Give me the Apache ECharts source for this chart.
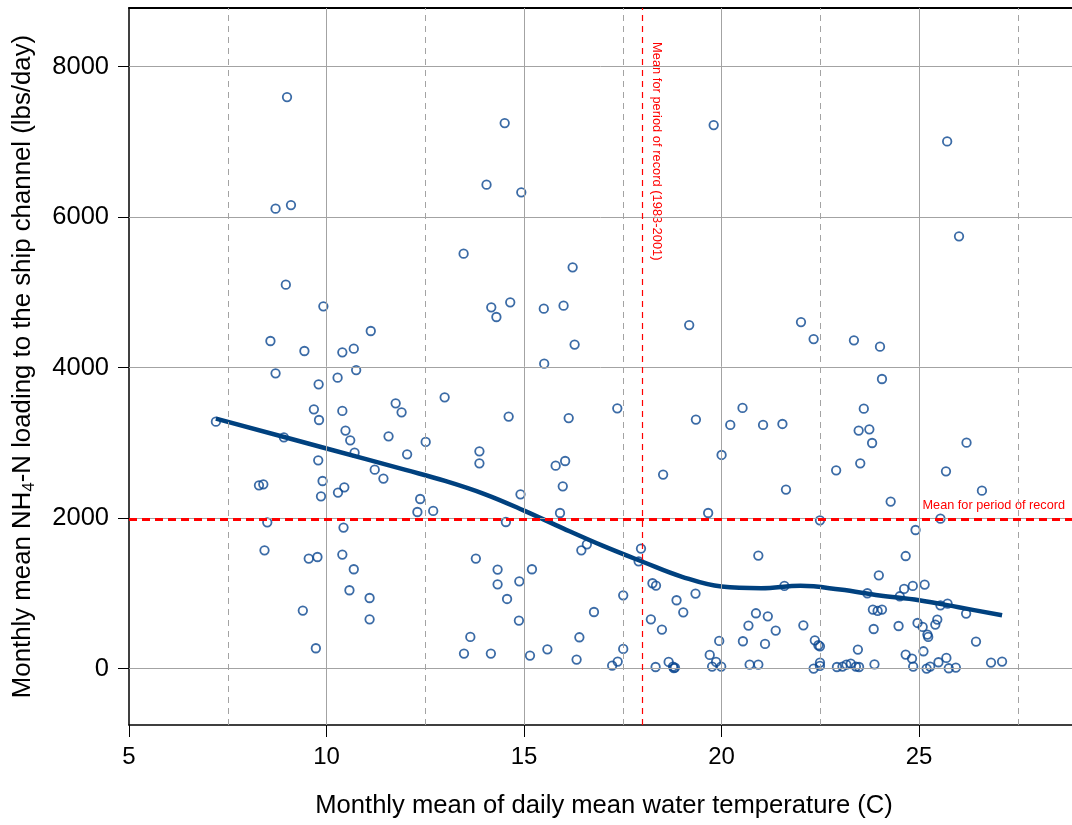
<!DOCTYPE html>
<html>
<head>
<meta charset="utf-8">
<script src="https://cdn.jsdelivr.net/npm/echarts@6/dist/echarts.min.js"></script>
<style>
  html, body { margin: 0; padding: 0; background: #ffffff; }
  #chart { width: 1072px; height: 825px; }
</style>
</head>
<body>
<div id="chart"></div>
<script>
// Monthly mean water temperature (C) for each month of record
const temperature = [
  9.00, 8.71, 9.10, 8.97, 9.92, 8.58, 9.44, 10.40, 10.69, 11.12,
  8.71, 10.75, 9.80, 10.28, 12.99, 11.75, 11.90, 9.68, 10.40, 9.81,
  7.20, 10.48, 10.60, 11.57, 12.51, 8.92, 10.71, 12.04, 9.79, 11.22,
  11.44, 8.29, 8.40, 9.90, 10.45, 10.29, 9.86, 12.37, 12.30, 12.70,
  8.50, 10.43, 8.43, 9.55, 9.77, 10.40, 10.69, 10.58, 11.09, 11.09,
  9.40, 9.73,
  14.51, 19.80, 14.05, 14.93, 13.47, 16.23, 14.17, 14.30, 14.65, 15.50,
  16.00, 19.18, 16.28,
  15.51, 14.61, 16.13, 17.36, 19.35, 20.53, 20.22, 20.00, 13.87, 13.87,
  15.80, 16.04, 15.98, 18.52, 14.91, 15.91, 19.66, 14.54, 17.96, 16.45,
  16.59, 17.90, 20.93, 13.78, 14.33, 15.20, 14.33, 14.88, 14.57, 14.87,
  18.25, 18.34, 19.34, 18.86, 19.03, 17.51, 16.77, 18.21, 18.49, 20.87,
  20.68, 19.94, 20.54, 13.64, 13.48, 14.16, 15.15, 15.59, 16.40, 16.33,
  17.51, 17.37, 17.23, 18.33, 18.66, 18.77, 18.82, 18.79, 19.70, 19.76,
  19.86, 19.99, 20.71, 20.93,
  25.71, 26.01, 22.01, 22.33, 23.35, 24.01,
  24.06, 21.05, 21.54, 23.60, 23.47, 23.74, 23.81, 23.51, 22.90, 26.20,
  25.68, 26.59, 21.63, 24.28, 22.49, 25.54, 24.91, 24.66, 23.98, 21.59,
  23.69, 24.62, 24.84, 25.14, 24.51, 25.54, 25.72, 26.19, 21.17, 23.83,
  23.95, 24.06, 21.37, 22.07, 24.48, 23.85, 24.96, 25.09, 25.21, 25.23,
  25.41, 25.46, 26.44, 21.10, 22.36, 22.45, 22.49, 23.45, 24.66, 24.82,
  25.11, 25.49, 25.69, 26.82, 27.10, 22.33, 22.49, 22.49, 22.92, 23.06,
  23.16, 23.27, 23.40, 23.48, 23.87, 24.85, 25.19, 25.28, 25.75, 25.93
];

// Monthly mean NH4-N loading (lbs/day), same order as temperature
const loading = [
  7596, 6113, 6161, 5103, 4815, 4354, 4221, 4203, 4252, 4487,
  3924, 3968, 3778, 3867, 3605, 3526, 3406, 3446, 3424, 3304,
  3282, 3163, 3034, 3087, 3012, 3074, 2870, 2848, 2768, 2644,
  2525, 2436, 2449, 2493, 2409, 2339, 2290, 2254, 2081, 2095,
  1944, 1874, 1572, 1462, 1483, 1515, 1320, 1041, 938, 655,
  771, 270,
  7251, 7224, 6432, 6330, 5515, 5333, 4801, 4673, 4868, 4784,
  4824, 4566, 4306,
  4053, 3349, 3330, 3459, 3309, 3464, 3238, 2839, 2888, 2728,
  2697, 2759, 2423, 2578, 2316, 2068, 2068, 1948, 1595, 1572,
  1652, 1426, 1502, 1462, 1316, 1320, 1120, 1160, 925, 638,
  1134, 1103, 997, 908, 748, 974, 752, 655, 518, 735,
  571, 367, 363, 420, 199, 199, 173, 256, 416, 120,
  261, 93, 40, 21, 88, 27, 13, 5, 181, 27,
  88, 27, 53, 53,
  7007, 5745, 4606, 4380, 4363, 4279,
  3849, 3238, 3251, 3455, 3163, 3180, 2998, 2728, 2635, 3003,
  2622, 2365, 2379, 2219, 1971, 1993, 1842, 1496, 1240, 1098,
  1001, 1058, 1098, 1116, 961, 841, 864, 731, 695, 784,
  766, 784, 505, 575, 566, 526, 606, 553, 452, 420,
  585, 651, 359, 327, 376, 310, 296, 252, 186, 133,
  230, 84, 141, 80, 93, 0, 80, 35, 21, 27,
  53, 66, 27, 21, 57, 27, 0, 27, 4, 13
];

// Smoothed (LOWESS) relation of loading to temperature
const trendTemp = [7.2, 10, 12, 13, 14, 15, 16, 17, 18, 19, 20, 21, 22, 23, 24, 25, 26, 27.1];
const trendLoad = [3322, 2925, 2640, 2495, 2320, 2100, 1860, 1630, 1420, 1220, 1090, 1068, 1100, 1050, 972, 908, 815, 708];

// Axis ticks and reference lines
const xTicks = [5, 10, 15, 20, 25];
const xMinorTicks = [7.5, 12.5, 17.5, 22.5, 27.5];
const yTicks = [0, 2000, 4000, 6000, 8000];
const meanLoad = 1980;
const meanTemp = 18.0;
const meanLoadLabel = 'Mean for period of record';
const meanTempLabel = 'Mean for period of record (1983-2001)';
const xTitle = 'Monthly mean of daily mean water temperature (C)';

const X_MIN = 5, X_MAX = 28.87, Y_MIN = -750, Y_MAX = 8780;
const FONT = '"Liberation Sans", Arial, Helvetica, sans-serif';
const chart = echarts.init(document.getElementById('chart'), null, { renderer: 'canvas' });

const points = temperature.map((t, i) => [t, loading[i]]);
const trend = trendTemp.map((t, i) => [t, trendLoad[i]]);

const gridSolid = { color: '#a3a3a3', width: 1, type: 'solid' };
const gridDash = { color: '#a3a3a3', width: 1, type: [6, 5] };

const gridLines = []
  .concat(xTicks.slice(1).map(v => ({ xAxis: v, lineStyle: gridSolid })))
  .concat(xMinorTicks.map(v => ({ xAxis: v, lineStyle: gridDash })))
  .concat(yTicks.map(v => ({ yAxis: v, lineStyle: gridSolid })));

chart.setOption({
  animation: false,
  backgroundColor: '#ffffff',
  grid: { left: 129, top: 8, width: 943, height: 717, show: false },
  xAxis: [
    {
      type: 'value', min: X_MIN, max: X_MAX, position: 'bottom',
      axisLine: { show: true, onZero: false, lineStyle: { color: '#000000', width: 1.5 } },
      axisTick: { show: true, customValues: xTicks, length: 12, lineStyle: { color: '#000000', width: 1 } },
      axisLabel: { customValues: xTicks, color: '#000000', fontSize: 24, fontFamily: FONT, margin: 20,
        formatter: v => String(v) },
      splitLine: { show: false }
    },
    {
      // top frame line of the plotting region
      type: 'value', min: X_MIN, max: X_MAX, position: 'top',
      axisLine: { show: true, onZero: false, lineStyle: { color: '#000000', width: 2 } },
      axisTick: { show: false }, axisLabel: { show: false }, splitLine: { show: false }
    }
  ],
  yAxis: {
    type: 'value', min: Y_MIN, max: Y_MAX,
    axisLine: { show: true, onZero: false, lineStyle: { color: '#000000', width: 1.5 } },
    axisTick: { show: true, customValues: yTicks, length: 11, lineStyle: { color: '#000000', width: 1 } },
    axisLabel: { customValues: yTicks, color: '#000000', fontSize: 25.5, fontFamily: FONT, margin: 20,
      formatter: v => String(v) },
    splitLine: { show: false }
  },
  series: [
    {
      name: 'grid', type: 'scatter', data: [], z: 1, silent: true,
      markLine: { silent: true, symbol: ['none', 'none'], label: { show: false }, data: gridLines }
    },
    {
      name: 'means', type: 'scatter', data: [], z: 2, silent: true,
      markLine: {
        silent: true, symbol: ['none', 'none'], label: { show: false },
        data: [
          { yAxis: meanLoad, lineStyle: { color: '#ff0000', width: 3, type: [8, 5] } },
          { xAxis: meanTemp, lineStyle: { color: '#ff0000', width: 1.2, type: [6, 5] } }
        ]
      }
    },
    {
      name: 'monthly', type: 'scatter', data: points, z: 3,
      symbol: 'circle', symbolSize: 8.5,
      itemStyle: { color: 'rgba(255,255,255,0)', borderColor: '#0a4690', borderWidth: 1.8 }
    },
    {
      name: 'trend', type: 'line', data: trend, z: 4,
      smooth: 0.4, showSymbol: false,
      lineStyle: { color: '#00417f', width: 4.5 }
    }
  ]
});

// Titles and reference-line labels positioned from the axis scales
const pMean = chart.convertToPixel({ gridIndex: 0 }, [meanTemp, meanLoad]);
const pTop = chart.convertToPixel({ gridIndex: 0 }, [X_MAX, Y_MAX]);
const pBottom = chart.convertToPixel({ gridIndex: 0 }, [X_MIN, Y_MIN]);
const plotMidY = (pTop[1] + pBottom[1]) / 2;

chart.setOption({
  graphic: [
    {
      type: 'text', x: 604, y: 806, silent: true,
      style: {
        text: xTitle, fill: '#000000', font: '25.6px ' + FONT,
        align: 'center', verticalAlign: 'middle', textAlign: 'center', textVerticalAlign: 'middle'
      }
    },
    {
      type: 'text', x: 23, y: plotMidY, rotation: Math.PI / 2, silent: true,
      style: {
        text: '{a|Monthly mean NH}{s|4}{a|-N loading to the ship channel (lbs/day)}',
        align: 'center', verticalAlign: 'middle', textAlign: 'center', textVerticalAlign: 'middle',
        rich: {
          a: { fontSize: 25.8, fontFamily: FONT, fill: '#000000', color: '#000000', lineHeight: 30 },
          s: { fontSize: 17, fontFamily: FONT, fill: '#000000', color: '#000000', lineHeight: 17, verticalAlign: 'bottom' }
        }
      }
    },
    {
      type: 'text', x: pTop[0] - 7, y: pMean[1] - 14, silent: true,
      style: {
        text: meanLoadLabel, fill: '#ff0000', font: '12.7px ' + FONT,
        align: 'right', verticalAlign: 'middle', textAlign: 'right', textVerticalAlign: 'middle'
      }
    },
    {
      type: 'text', x: pMean[0] + 14, y: pTop[1] + 34, rotation: -Math.PI / 2, silent: true,
      style: {
        text: meanTempLabel, fill: '#ff0000', font: '12.9px ' + FONT,
        align: 'left', verticalAlign: 'middle', textAlign: 'left', textVerticalAlign: 'middle'
      }
    }
  ]
});
</script>
</body>
</html>
